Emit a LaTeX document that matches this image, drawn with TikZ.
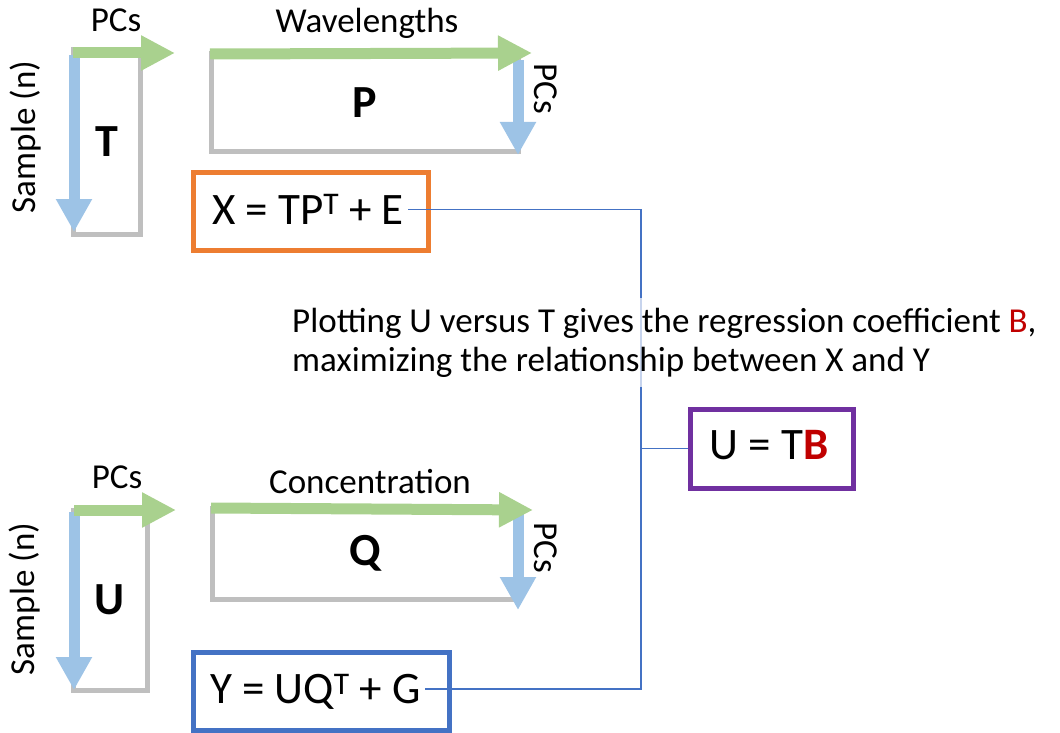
\documentclass[tikz,border=0pt]{standalone}
\usepackage{fontspec}
\setmainfont{Carlito}
\usetikzlibrary{arrows.meta}
\definecolor{grayline}{HTML}{BFBFBF}
\definecolor{bluearrow}{HTML}{9DC3E6}
\definecolor{greenarrow}{HTML}{A9D18E}
\definecolor{orangebox}{HTML}{ED7D31}
\definecolor{bluebox}{HTML}{4472C4}
\definecolor{purplebox}{HTML}{7030A0}
\definecolor{redB}{HTML}{C00000}
\begin{document}
\begin{tikzpicture}[x=1pt,y=-1pt,
  matrixrect/.style={draw=grayline, line width=5pt, inner sep=0pt, font=\fontsize{46}{54}\selectfont\bfseries},
  vpc/.style={draw=bluearrow, line width=11pt, -{Triangle[length=33pt,width=34pt]}},
  hpc/.style={draw=greenarrow, line width=11pt, -{Triangle[length=34pt,width=33pt]}},
  lbl/.style={font=\fontsize{35}{42}\selectfont, inner sep=0pt},
  eq/.style={font=\fontsize{45}{54}\selectfont, inner sep=4pt, text height=29pt, text depth=0pt},
  eqbox/.style={line width=5pt, inner sep=0pt},
  conn/.style={draw=bluebox, line width=1.3pt},
]
\useasboundingbox (0,0) rectangle (1060,733);

% matrices
\node[matrixrect, minimum width=67, minimum height=184] (Tm) at (106.5,142) {T};
\node[matrixrect, minimum width=307, minimum height=98] (Pm) at (364.5,103) {P};
\node[matrixrect, minimum width=74, minimum height=180] (Um) at (110,600) {U};
\node[matrixrect, minimum width=306, minimum height=91] (Qm) at (365,553.5) {Q};

% arrows
\draw[vpc] (74,55) -- (74,232);
\draw[hpc] (73,53) -- (175,53);
\draw[vpc] (518,60) -- (518,155);
\draw[hpc] (210,54) -- (532,53);
\draw[vpc] (74,512) -- (74,690);
\draw[hpc] (74,510) -- (176,510);
\draw[vpc] (518,514) -- (518,610);
\draw[hpc] (211,508) -- (533,510);

% labels
\node[lbl, anchor=base] (pcT) at (116,32) {PCs};
\node[lbl, anchor=base] (wl) at (367,33) {Wavelengths};
\node[lbl, rotate=90] (sT) at (26,137) {Sample (n)};
\node[lbl, rotate=-90] (pcP) at (546,89) {PCs};
\node[lbl, anchor=base] (pcU) at (117,488) {PCs};
\node[lbl, anchor=base] (conc) at (370,493) {Concentration};
\node[lbl, rotate=90] (sU) at (25,599) {Sample (n)};
\node[lbl, rotate=-90] (pcQ) at (546,548) {PCs};

% equation boxes
\node[eqbox, draw=orangebox, minimum width=235, minimum height=78] (xbox) at (310.5,211) {};
\node[eq] (xeq) at (308,209.5) {X = TP\textsuperscript{T} + E};
\node[eqbox, draw=bluebox, minimum width=256, minimum height=78] (ybox) at (321,691) {};
\node[eq] (yeq) at (315.5,689) {Y = UQ\textsuperscript{T} + G};
\node[eqbox, draw=purplebox, minimum width=163, minimum height=79] (ubox) at (771.5,448.5) {};
\node[eq] (ueq) at (769,445) {U = T\textcolor{redB}{\bfseries B}};

% connectors
\coordinate (jx) at (641,0);
\draw[conn] (xeq.east) -| (yeq.east -| jx) -- (yeq.east);
\draw[conn] (ubox.west) -- (ubox.west -| jx);

% note
\node[font=\fontsize{35}{39}\selectfont, align=left, anchor=west, inner xsep=0pt, inner ysep=10pt,
      fill=white, fill opacity=0.7, text opacity=1] (note) at (292,342.5)
  {Plotting U versus T gives the regression coefficient \textcolor{redB}{B},\\maximizing the relationship between X and Y};
\end{tikzpicture}
\end{document}
